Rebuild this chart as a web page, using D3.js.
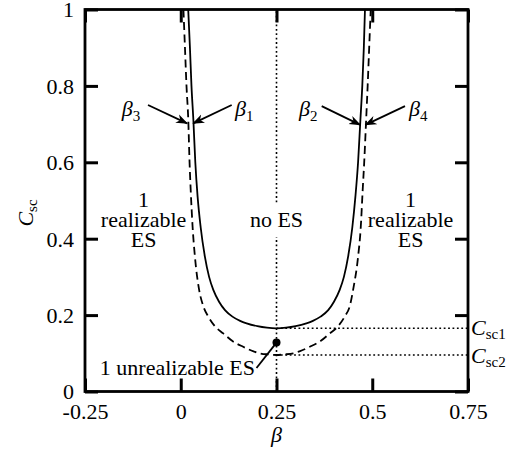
<!DOCTYPE html>
<html><head><meta charset="utf-8">
<script src="https://cdn.jsdelivr.net/npm/d3@7"></script>
</head><body style="margin:0">
<svg id="chart" width="523" height="452" font-family="Liberation Serif, Times New Roman, Times, serif"></svg>
<script>
// Axis ticks and labels
const xTicks = [-0.25, 0, 0.25, 0.5, 0.75];
const xTickLabels = ["-0.25", "0", "0.25", "0.5", "0.75"];
const yTicks = [0, 0.2, 0.4, 0.6, 0.8, 1];
const yTickLabels = ["0", "0.2", "0.4", "0.6", "0.8", "1"];

// Boundary curve (solid): C_sc versus beta
const solidBeta = [0.0195, 0.024, 0.028, 0.033, 0.038, 0.044, 0.052, 0.063, 0.074, 0.085, 0.100, 0.1155, 0.135, 0.155, 0.172, 0.200, 0.225, 0.250,
                   0.275, 0.300, 0.328, 0.345, 0.365, 0.385, 0.400, 0.415, 0.426, 0.437, 0.448, 0.456, 0.463, 0.469, 0.474, 0.478, 0.481];
const solidCsc  = [1.00, 0.90, 0.80, 0.71, 0.60, 0.51, 0.43, 0.353, 0.30, 0.266, 0.235, 0.213, 0.196, 0.185, 0.1785, 0.171, 0.167, 0.1654,
                   0.167, 0.171, 0.1785, 0.185, 0.196, 0.213, 0.235, 0.266, 0.30, 0.353, 0.43, 0.51, 0.60, 0.71, 0.80, 0.90, 1.00];

// Boundary curve (dashed): C_sc versus beta
const dashedBeta = [0.007, 0.011, 0.015, 0.0197, 0.023, 0.026, 0.031, 0.037, 0.048, 0.058, 0.072, 0.090, 0.111, 0.135, 0.163, 0.190, 0.206, 0.230, 0.250,
                    0.270, 0.294, 0.310, 0.337, 0.365, 0.389, 0.410, 0.428, 0.442, 0.450, 0.463, 0.470, 0.475, 0.479, 0.484, 0.488, 0.492, 0.496];
const dashedCsc  = [1.00, 0.90, 0.80, 0.71, 0.60, 0.527, 0.43, 0.353, 0.266, 0.226, 0.196, 0.170, 0.152, 0.132, 0.117, 0.105, 0.100, 0.097, 0.0955,
                    0.097, 0.100, 0.105, 0.117, 0.132, 0.152, 0.170, 0.196, 0.226, 0.266, 0.353, 0.43, 0.527, 0.60, 0.71, 0.80, 0.90, 1.00];

// Reference levels and the unrealizable equilibrium state
const betaMid = 0.25;
const csc1 = 0.1654;
const csc2 = 0.0955;
const esBeta = 0.25;
const esCsc = 0.128;

// Beta labels with arrows pointing to the curves at C_sc = 0.7
const arrowNames = ["3", "1", "2", "4"];
const arrowLabelBeta = [-0.128, 0.168, 0.335, 0.622];
const arrowLabelCsc = [0.737, 0.737, 0.737, 0.737];
const arrowFromBeta = [-0.0855, 0.133, 0.368, 0.5855];
const arrowFromCsc = [0.75, 0.75, 0.747, 0.747];
const arrowToBeta = [0.0165, 0.0325, 0.4685, 0.482];
const arrowToCsc = [0.702, 0.702, 0.698, 0.698];

const svg = d3.select("#chart").style("display", "block");
const pLeft = 85, pRight = 468, pTop = 9.5, pBottom = 391.5;
const x = d3.scaleLinear().domain([-0.25, 0.75]).range([pLeft, pRight]);
const y = d3.scaleLinear().domain([0, 1]).range([pBottom, pTop]);
const tickLen = 13;

const defs = svg.append("defs");
defs.append("clipPath").attr("id", "plotClip")
  .append("rect").attr("x", pLeft).attr("y", pTop).attr("width", pRight - pLeft).attr("height", pBottom - pTop);

defs.append("marker")
  .attr("id", "head").attr("viewBox", "0 0 12 10").attr("refX", 11).attr("refY", 5)
  .attr("markerWidth", 12).attr("markerHeight", 10).attr("markerUnits", "userSpaceOnUse")
  .attr("orient", "auto")
  .append("path").attr("d", "M0,0.5 L12,5 L0,9.5 L3.5,5 Z").attr("fill", "#000");

const fmtX = d => xTickLabels[xTicks.indexOf(d)];
const fmtY = d => yTickLabels[yTicks.indexOf(d)];

// Axes: ticks point into the plot on all four sides
const gB = svg.append("g").attr("transform", `translate(0,${pBottom})`)
  .call(d3.axisBottom(x).tickValues(xTicks).tickFormat(fmtX).tickSizeInner(-tickLen).tickSizeOuter(0).tickPadding(13));
const gT = svg.append("g").attr("transform", `translate(0,${pTop})`)
  .call(d3.axisTop(x).tickValues(xTicks).tickFormat("").tickSizeInner(-tickLen).tickSizeOuter(0));
const gL = svg.append("g").attr("transform", `translate(${pLeft},0)`)
  .call(d3.axisLeft(y).tickValues(yTicks).tickFormat(fmtY).tickSizeInner(-tickLen).tickSizeOuter(0).tickPadding(11));
const gR = svg.append("g").attr("transform", `translate(${pRight},0)`)
  .call(d3.axisRight(y).tickValues(yTicks).tickFormat("").tickSizeInner(-tickLen).tickSizeOuter(0));
[gB, gT, gL, gR].forEach(g => {
  g.attr("font-family", null).attr("font-size", 22);
  g.select(".domain").remove();
  g.selectAll(".tick line").attr("stroke", "#000").attr("stroke-width", 3);
  g.selectAll(".tick text").attr("fill", "#000");
});
gB.selectAll(".tick text").attr("dy", "0.68em");
gL.selectAll(".tick text").attr("dy", "0.34em");

const plot = svg.append("g").attr("clip-path", "url(#plotClip)");

// Dotted guide lines
const dotted = (sel) => sel.attr("stroke", "#000").attr("stroke-width", 1.6).attr("stroke-dasharray", "1.8,2.6").attr("fill", "none");
plot.append("line").attr("x1", x(betaMid)).attr("x2", x(betaMid)).attr("y1", y(0)).attr("y2", y(1)).call(dotted);
plot.append("line").attr("x1", x(betaMid)).attr("x2", x(0.75)).attr("y1", y(csc1)).attr("y2", y(csc1)).call(dotted);
plot.append("line").attr("x1", x(betaMid)).attr("x2", x(0.75)).attr("y1", y(csc2)).attr("y2", y(csc2)).call(dotted);

// Curves
const line = d3.line().x(d => x(d[0])).y(d => y(d[1])).curve(d3.curveMonotoneX);
plot.append("path").datum(solidBeta.map((b, i) => [b, solidCsc[i]]))
  .attr("d", line).attr("fill", "none").attr("stroke", "#000").attr("stroke-width", 1.8);
plot.append("path").datum(dashedBeta.map((b, i) => [b, dashedCsc[i]]))
  .attr("d", line).attr("fill", "none").attr("stroke", "#000").attr("stroke-width", 1.8).attr("stroke-dasharray", "8,4.5");

// Frame
svg.append("rect").attr("x", pLeft).attr("y", pTop).attr("width", pRight - pLeft).attr("height", pBottom - pTop)
  .attr("fill", "none").attr("stroke", "#000").attr("stroke-width", 2.8);

// Unrealizable equilibrium state
svg.append("circle").attr("cx", x(esBeta)).attr("cy", y(esCsc)).attr("r", 4).attr("fill", "#000");

const labels = svg.append("g");
function txt(g, size) {
  return g.append("text").attr("font-size", size).attr("fill", "#000");
}

// Region labels
function block(cx, lines, baseline) {
  const t = txt(labels, 22).attr("text-anchor", "middle");
  lines.forEach((s, i) => t.append("tspan").attr("x", cx).attr("y", baseline + i * 20).text(s));
  return t;
}
block(x(-0.097), ["1", "realizable", "ES"], 207);
block(x(0.6), ["1", "realizable", "ES"], 207);

// "no ES" sits on a white patch that interrupts the vertical guide
labels.append("rect").attr("x", x(betaMid) - 30).attr("y", 205).attr("width", 60).attr("height", 32).attr("fill", "#fff");
txt(labels, 22).attr("x", x(betaMid)).attr("y", 227).attr("text-anchor", "middle").text("no ES");

txt(labels, 22).attr("x", 255).attr("y", 375).attr("text-anchor", "end").text("1 unrealizable ES");
labels.append("line").attr("x1", 256.5).attr("y1", 368).attr("x2", x(esBeta)).attr("y2", y(esCsc))
  .attr("stroke", "#000").attr("stroke-width", 1.8);

// Subscripted labels
function subLabel(g, main, sub, size, subSize, shift) {
  const t = txt(g, size);
  t.append("tspan").attr("font-style", "italic").text(main);
  t.append("tspan").attr("font-size", subSize).attr("dy", shift).text(sub);
  return t;
}

arrowNames.forEach((n, i) => {
  subLabel(labels, "β", n, 22, 15, 5)
    .attr("x", x(arrowLabelBeta[i]) - 10).attr("y", y(arrowLabelCsc[i]) + 6);
  labels.append("line")
    .attr("x1", x(arrowFromBeta[i])).attr("y1", y(arrowFromCsc[i]))
    .attr("x2", x(arrowToBeta[i])).attr("y2", y(arrowToCsc[i]))
    .attr("stroke", "#000").attr("stroke-width", 1.8).attr("marker-end", "url(#head)");
});

subLabel(labels, "C", "sc1", 22, 15, 4).attr("x", 471).attr("y", 335);
subLabel(labels, "C", "sc2", 22, 15, 4).attr("x", 471).attr("y", 363);

// Axis titles
txt(labels, 22).attr("x", x(0.25)).attr("y", 442).attr("text-anchor", "middle")
  .attr("font-style", "italic").text("β");
const yTitle = labels.append("g").attr("transform", "translate(33,213) rotate(-90)");
subLabel(yTitle, "C", "sc", 22, 15, 4).attr("text-anchor", "middle");
</script>
</body></html>
